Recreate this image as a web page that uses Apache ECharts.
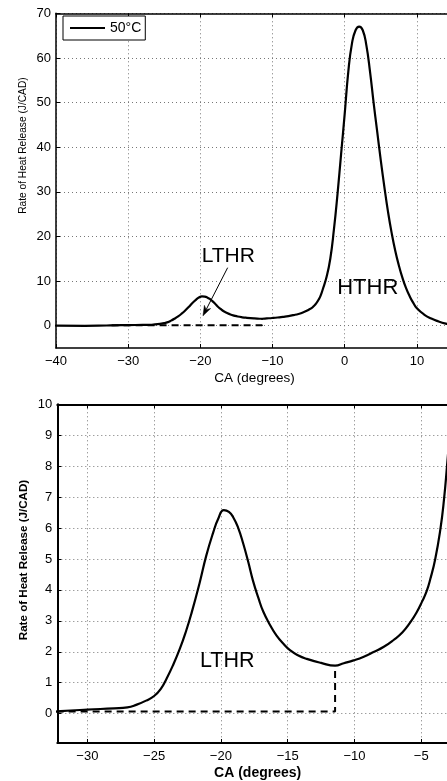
<!DOCTYPE html>
<html><head><meta charset="utf-8">
<script src="https://cdn.jsdelivr.net/npm/echarts@6/dist/echarts.min.js"></script>
<style>html,body{margin:0;padding:0;background:#fff}#c{width:447px;height:781px}</style>
</head><body><div id="c"></div>
<script>
// ---- data ----
const caDeg = [-40,-36,-33,-32,-30,-28,-27,-26.3,-25.6,-25,-24.5,-24.07,-23.6,-23.08,-22.6,-22.2,-21.58,-21.1,-20.58,-20.2,-19.78,-19.4,-19.08,-18.7,-18.33,-17.95,-17.6,-17.2,-16.83,-16.3,-15.83,-15.3,-14.83,-14.2,-13.57,-12.5,-11.45,-10.8,-10.07,-9.3,-8.57,-7.8,-7.07,-6.4,-5.82,-5.35,-4.94,-4.6,-4.32,-3.95,-3.57,-3.3,-3.07,-2.5,-2,-1.5,-1,-0.5,0,0.5,1,1.5,2,2.5,3,3.5,4,4.5,5,5.5,6,6.5,7,7.5,8,8.5,9,9.5,10,11,12,13,14,15];
const rohr  = [0.0,-0.03,0.04,0.08,0.13,0.17,0.2,0.29,0.42,0.57,0.8,1.13,1.55,2.09,2.68,3.25,4.25,5.1,5.85,6.3,6.58,6.52,6.35,6.0,5.5,4.9,4.3,3.75,3.3,2.85,2.52,2.25,2.05,1.88,1.77,1.64,1.55,1.63,1.72,1.84,1.99,2.16,2.38,2.63,2.95,3.27,3.62,3.95,4.35,5.0,5.95,6.9,8.0,11.0,15.0,21.5,29.5,38.5,47.5,57,63.2,66.2,67,66.2,62.8,57,50,43.5,37,31,25.5,20.8,16.8,13.5,10.7,8.4,6.6,5.1,3.9,2.5,1.6,0.95,0.45,0.1];
const baseX = [-32.3, -11.45, -11.45];
const baseY = [0.07, 0.07, 1.55];
const seriesName = '50°C';
const topXTicks = [-40,-30,-20,-10,0,10];
const topYTicks = [0,10,20,30,40,50,60,70];
const botXTicks = [-30,-25,-20,-15,-10,-5];
const botYTicks = [0,1,2,3,4,5,6,7,8,9,10];

const FONT = "'Liberation Sans', Arial, Helvetica, sans-serif";
const curve = caDeg.map((x,i)=>[x, rohr[i]]);
const base = baseX.map((x,i)=>[x, baseY[i]]);
const fmt = v => String(v).replace('-', '\u2212');

function xAx(gi, min, max, ticks, lw, name, bold, nameSize, shift){
  return {type:'value', gridIndex:gi, min:min, max:max, position:'bottom',
    name:name, nameLocation:'middle', nameGap:23,
    nameTextStyle:{fontFamily:FONT, fontSize:nameSize, color:'#000', fontWeight: bold?'bold':'normal', padding:[0,0,0,shift]},
    axisLine:{show:true, onZero:false, lineStyle:{color:'#000', width:lw}},
    axisTick:{show:true, inside:true, length:4, customValues:ticks, lineStyle:{color:'#000', width:1}},
    axisLabel:{show:true, customValues:ticks, formatter:fmt, margin:7, fontFamily:FONT, fontSize:13, color:'#000'},
    splitLine:{show:true, lineStyle:{color:'#777', type:[1,3], width:1}}
  };
}
function xTop(gi, min, max, ticks, lw){
  return {type:'value', gridIndex:gi, min:min, max:max, position:'top',
    axisLine:{show:true, onZero:false, lineStyle:{color:'#000', width:lw}},
    axisTick:{show:true, inside:true, length:4, customValues:ticks, lineStyle:{color:'#000'}},
    axisLabel:{show:false, customValues:ticks}, splitLine:{show:false}};
}
function yAx(gi, min, max, ticks, lw){
  return {type:'value', gridIndex:gi, min:min, max:max, position:'left',
    axisLine:{show:true, onZero:false, lineStyle:{color:'#000', width:lw}},
    axisTick:{show:true, inside:true, length:4, customValues:ticks, lineStyle:{color:'#000', width:1}},
    axisLabel:{show:true, customValues:ticks, formatter:fmt, margin:5, fontFamily:FONT, fontSize:13, color:'#000'},
    splitLine:{show:true, lineStyle:{color:'#777', type:[1,3], width:1}}
  };
}

const chart = echarts.init(document.getElementById('c'), null, {renderer:'canvas'});
chart.setOption({
  animation:false,
  backgroundColor:'#fff',
  grid:[
    {left:56, top:13.3, right:0, bottom:433},
    {left:57.3, top:404.3, right:0, bottom:38}
  ],
  legend:{data:[seriesName], left:63, top:16, orient:'horizontal', icon:'rect', itemWidth:35, itemHeight:2,
    backgroundColor:'#fff', borderColor:'#000', borderWidth:1, padding:[5,4,5,7], selectedMode:false,
    textStyle:{fontFamily:FONT, fontSize:14, color:'#000'}},
  xAxis:[
    xAx(0, -40, 14.17, topXTicks, 1.5, 'CA (degrees)', false, 13.5, 6),
    xAx(1, -32.25, -3.07, botXTicks, 2, 'CA (degrees)', true, 14, 11),
    xTop(0, -40, 14.17, topXTicks, 1.5),
    xTop(1, -32.25, -3.07, botXTicks, 2)
  ],
  yAxis:[
    yAx(0, -5, 70, topYTicks, 1.5),
    yAx(1, -0.95, 10, botYTicks, 2)
  ],
  series:[
    {name:'baseline', type:'line', xAxisIndex:0, yAxisIndex:0, data:base, symbol:'none',
      lineStyle:{color:'#000', width:2, type:[7,5]}, z:2},
    {name:seriesName, type:'line', xAxisIndex:0, yAxisIndex:0, data:curve, symbol:'none', smooth:0.5,
      lineStyle:{color:'#000', width:2.2, join:'round', cap:'round'}, itemStyle:{color:'#000'}, z:3},
    {name:'baseline', type:'line', xAxisIndex:1, yAxisIndex:1, data:base, symbol:'none',
      lineStyle:{color:'#000', width:2, type:[7,5]}, z:2},
    {name:seriesName, type:'line', xAxisIndex:1, yAxisIndex:1, data:curve, symbol:'none', smooth:0.5,
      lineStyle:{color:'#000', width:2.2, join:'round', cap:'round'}, itemStyle:{color:'#000'}, z:3}
  ]
});

// annotations
const p = (gi, x, y) => chart.convertToPixel({gridIndex:gi}, [x, y]);
const lt = p(0, -16.13, 15.6), ht = p(0, 3.19, 8.47), lb = p(1, -19.53, 1.71);
const a0 = p(0, -16.22, 13.0), a1 = p(0, -19.64, 2.2);
const dx = a1[0]-a0[0], dy = a1[1]-a0[1], L = Math.hypot(dx, dy), ux = dx/L, uy = dy/L;
const hl = 10, hw = 3.5;
const bx = a1[0]-ux*hl, by = a1[1]-uy*hl;
const nx = -uy, ny = ux;
const head = [[a1[0],a1[1]],[bx+nx*hw, by+ny*hw],[a1[0]-ux*hl*0.7, a1[1]-uy*hl*0.7],[bx-nx*hw, by-ny*hw]];
const txt = (pt, s, size) => ({type:'text', x:pt[0], y:pt[1], z:10,
  style:{text:s, fontFamily:FONT, fontSize:size, fill:'#000', align:'center', verticalAlign:'middle'}});
chart.setOption({graphic:[
  txt(lt, 'LTHR', 21), txt(ht, 'HTHR', 22), txt(lb, 'LTHR', 21.5),
  {type:'line', z:10, shape:{x1:a0[0], y1:a0[1], x2:a1[0]-ux*hl*0.7, y2:a1[1]-uy*hl*0.7}, style:{stroke:'#000', lineWidth:1}},
  {type:'polygon', z:10, shape:{points:head}, style:{fill:'#000', stroke:'#000', lineWidth:0.5}},
  {type:'text', x:23, y:145.6, rotation:Math.PI/2, z:10,
    style:{text:'Rate of Heat Release (J/CAD)', fontFamily:FONT, fontSize:10.2, fill:'#000', align:'center', verticalAlign:'middle'}},
  {type:'text', x:24, y:560, rotation:Math.PI/2, z:10,
    style:{text:'Rate of Heat Release (J/CAD)', fontFamily:FONT, fontSize:11.6, fontWeight:'bold', fill:'#000', align:'center', verticalAlign:'middle'}}
]});
</script>
</body></html>
